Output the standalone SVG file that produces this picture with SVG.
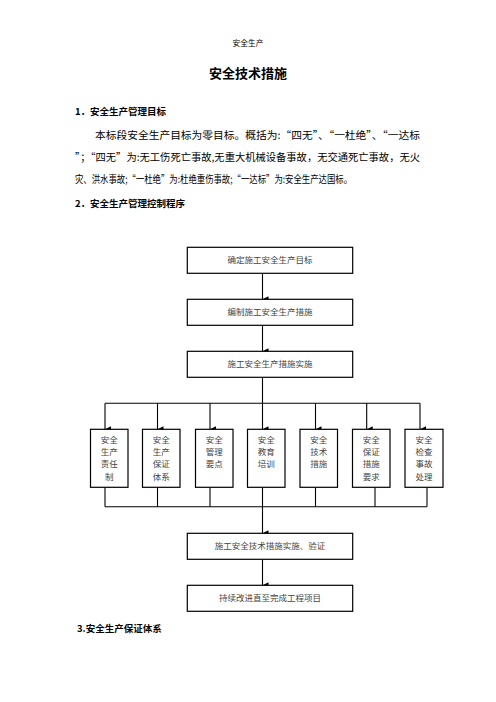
<svg xmlns="http://www.w3.org/2000/svg" width="496" height="702" viewBox="0 0 496 702">
<defs>
<marker id="ah" viewBox="0 0 6 6" refX="3" refY="6" markerWidth="6" markerHeight="6" markerUnits="userSpaceOnUse" orient="auto-start-reverse">
<path d="M0,0 L6,0 L3,6 Z" fill="#000"/>
</marker>
<style>
.t{font-family:"Noto Sans CJK SC","Noto Sans",sans-serif;fill:#000}
.h{font-size:9.5px;font-weight:bold}
.p{font-size:10.3px}
.bx{fill:#fff;stroke:#000;stroke-width:1.2}
.bt{font-family:"Noto Sans CJK SC",sans-serif;font-size:8.5px;fill:#444;text-anchor:middle}
.ln{stroke:#000;stroke-width:1.1;fill:none}
.ar{stroke:#000;stroke-width:1.1;fill:none;marker-end:url(#ah)}
</style>
</defs>
<rect width="496" height="702" fill="#fff"/>
<text class="t" x="248" y="46" font-size="7.7" text-anchor="middle" fill="#333">安全生产</text>
<text class="t" x="248" y="78" font-size="13" font-weight="bold" text-anchor="middle">安全技术措施</text>
<text class="t h" x="75" y="115">1．安全生产管理目标</text>
<text class="t p" x="95" y="139" textLength="325" lengthAdjust="spacingAndGlyphs">本标段安全生产目标为零目标。概括为:“四无”、“一杜绝”、“一达标</text>
<text class="t p" x="75" y="161" textLength="345" lengthAdjust="spacingAndGlyphs">”；“四无”为:无工伤死亡事故,无重大机械设备事故，无交通死亡事故，无火</text>
<text class="t p" x="75" y="183" textLength="277" lengthAdjust="spacingAndGlyphs">灾、洪水事故;“一杜绝”为:杜绝重伤事故;“一达标”为:安全生产达国标。</text>
<text class="t h" x="75" y="207">2．安全生产管理控制程序</text>
<text class="t h" x="77" y="632">3.安全生产保证体系</text>

<g id="connectors">
<line class="ar" x1="262.5" y1="273.3" x2="262.5" y2="299.3"/>
<line class="ar" x1="262.5" y1="325.3" x2="262.5" y2="351.3"/>
<line class="ln" x1="262.5" y1="377.3" x2="262.5" y2="403.3"/>
<line class="ln" x1="105" y1="403.3" x2="420" y2="403.3"/>
<line class="ar" x1="105" y1="403.3" x2="105" y2="429.3"/>
<line class="ar" x1="157.5" y1="403.3" x2="157.5" y2="429.3"/>
<line class="ar" x1="210" y1="403.3" x2="210" y2="429.3"/>
<line class="ar" x1="262.5" y1="403.3" x2="262.5" y2="429.3"/>
<line class="ar" x1="315.5" y1="403.3" x2="315.5" y2="429.3"/>
<line class="ar" x1="366.7" y1="403.3" x2="366.7" y2="429.3"/>
<line class="ar" x1="420" y1="403.3" x2="420" y2="429.3"/>
<line class="ln" x1="105" y1="487.3" x2="105" y2="506.7"/>
<line class="ln" x1="157.5" y1="487.3" x2="157.5" y2="506.7"/>
<line class="ln" x1="210" y1="487.3" x2="210" y2="506.7"/>
<line class="ln" x1="262.5" y1="487.3" x2="262.5" y2="506.7"/>
<line class="ln" x1="315.5" y1="487.3" x2="315.5" y2="506.7"/>
<line class="ln" x1="375" y1="487.3" x2="375" y2="506.7"/>
<line class="ln" x1="427" y1="487.3" x2="427" y2="506.7"/>
<line class="ln" x1="105" y1="506.7" x2="427" y2="506.7"/>
<line class="ar" x1="262.5" y1="506.7" x2="262.5" y2="533.3"/>
<line class="ar" x1="262.5" y1="559.3" x2="262.5" y2="585.3"/>
</g>

<g id="n1"><rect class="bx" x="187.3" y="247.3" width="165.4" height="26"/><text class="bt" x="270" y="263.3">确定施工安全生产目标</text></g>
<g id="n2"><rect class="bx" x="187.3" y="299.3" width="165.4" height="26"/><text class="bt" x="270" y="315.3">编制施工安全生产措施</text></g>
<g id="n3"><rect class="bx" x="187.3" y="351.3" width="165.4" height="26"/><text class="bt" x="270" y="367.3">施工安全生产措施实施</text></g>

<g id="s1"><rect class="bx" x="90.5" y="429.3" width="37.5" height="58"/><text class="bt"><tspan x="109.25" y="443">安全</tspan><tspan x="109.25" y="455">生产</tspan><tspan x="109.25" y="467.3">责任</tspan><tspan x="109.25" y="479.6">制</tspan></text></g>
<g id="s2"><rect class="bx" x="142.5" y="429.3" width="37.5" height="58"/><text class="bt"><tspan x="161.25" y="443">安全</tspan><tspan x="161.25" y="455">生产</tspan><tspan x="161.25" y="467.3">保证</tspan><tspan x="161.25" y="479.6">体系</tspan></text></g>
<g id="s3"><rect class="bx" x="195.5" y="429.3" width="37.5" height="58"/><text class="bt"><tspan x="214.25" y="443">安全</tspan><tspan x="214.25" y="455">管理</tspan><tspan x="214.25" y="467.3">要点</tspan></text></g>
<g id="s4"><rect class="bx" x="247.5" y="429.3" width="37.5" height="58"/><text class="bt"><tspan x="266.25" y="443">安全</tspan><tspan x="266.25" y="455">教育</tspan><tspan x="266.25" y="467.3">培训</tspan></text></g>
<g id="s5"><rect class="bx" x="300" y="429.3" width="37.5" height="58"/><text class="bt"><tspan x="318.75" y="443">安全</tspan><tspan x="318.75" y="455">技术</tspan><tspan x="318.75" y="467.3">措施</tspan></text></g>
<g id="s6"><rect class="bx" x="352.5" y="429.3" width="37.5" height="58"/><text class="bt"><tspan x="371.25" y="443">安全</tspan><tspan x="371.25" y="455">保证</tspan><tspan x="371.25" y="467.3">措施</tspan><tspan x="371.25" y="479.6">要求</tspan></text></g>
<g id="s7"><rect class="bx" x="405" y="429.3" width="38" height="58"/><text class="bt"><tspan x="424" y="443">安全</tspan><tspan x="424" y="455">检查</tspan><tspan x="424" y="467.3">事故</tspan><tspan x="424" y="479.6">处理</tspan></text></g>

<g id="n4"><rect class="bx" x="187.3" y="533.3" width="165.4" height="26"/><text class="bt" x="270" y="549.3">施工安全技术措施实施、验证</text></g>
<g id="n5"><rect class="bx" x="187.3" y="585.3" width="165.4" height="26"/><text class="bt" x="270" y="601.3">持续改进直至完成工程项目</text></g>
</svg>
